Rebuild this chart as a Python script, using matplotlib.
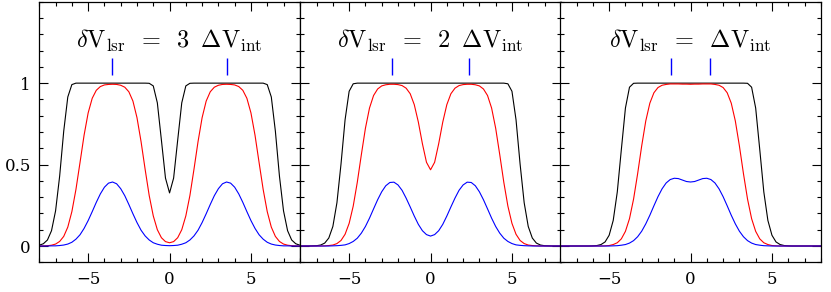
import matplotlib
matplotlib.use('Agg')
import matplotlib.pyplot as plt
from matplotlib.ticker import MultipleLocator
import numpy as np

plt.rcParams['mathtext.fontset'] = 'cm'

# velocity grid (-8 .. 8, step 0.25)
x = np.linspace(-8, 8, 65)

# panel 1: dV_lsr = 3 dV_int
black1 = [0.005, 0.014, 0.037, 0.094, 0.216, 0.429, 0.705, 0.915, 0.991,
          1.000, 1.000, 1.000, 1.000, 1.000, 1.000, 1.000, 1.000, 1.000,
          1.000, 1.000, 1.000, 1.000, 1.000, 1.000, 1.000, 1.000, 1.000,
          0.999, 0.983, 0.879, 0.650, 0.417, 0.326, 0.417, 0.650, 0.879, 0.983, 0.999,
          1.000, 1.000, 1.000, 1.000, 1.000, 1.000, 1.000, 1.000, 1.000,
          1.000, 1.000, 1.000, 1.000, 1.000, 1.000, 1.000, 1.000, 1.000,
          0.991, 0.915, 0.705, 0.429, 0.216, 0.094, 0.037, 0.014, 0.005]
red1 = [0.000, 0.001, 0.002, 0.005, 0.012, 0.028, 0.059, 0.116, 0.211, 0.347, 0.512,
        0.680, 0.817, 0.907, 0.956, 0.979, 0.989, 0.992, 0.993, 0.992, 0.987, 0.975,
        0.947, 0.890, 0.788, 0.641, 0.471, 0.310, 0.185, 0.100, 0.051, 0.027, 0.020,
        0.027, 0.051, 0.100, 0.185, 0.310, 0.471, 0.641, 0.788, 0.890, 0.947, 0.975,
        0.987, 0.992, 0.993, 0.992, 0.989, 0.979, 0.956, 0.907, 0.817, 0.680, 0.512,
        0.347, 0.211, 0.116, 0.059, 0.028, 0.012, 0.005, 0.002, 0.001, 0.000]
blue1 = [0.000, 0.000, 0.000, 0.001, 0.001, 0.003, 0.006, 0.012, 0.023, 0.042, 0.069,
         0.108, 0.156, 0.211, 0.268, 0.320, 0.361, 0.386, 0.393, 0.382, 0.352, 0.309,
         0.255, 0.198, 0.144, 0.097, 0.062, 0.037, 0.020, 0.011, 0.005, 0.003, 0.002,
         0.003, 0.005, 0.011, 0.020, 0.037, 0.062, 0.097, 0.144, 0.198, 0.255, 0.309,
         0.352, 0.382, 0.393, 0.386, 0.361, 0.320, 0.268, 0.211, 0.156, 0.108, 0.069,
         0.042, 0.023, 0.012, 0.006, 0.003, 0.001, 0.001, 0.000, 0.000, 0.000]

# panel 2: dV_lsr = 2 dV_int
black2 = [0.000, 0.000, 0.000, 0.001, 0.002, 0.006, 0.018, 0.049, 0.120, 0.266, 0.503,
          0.775, 0.950, 0.996,
          1.000, 1.000, 1.000, 1.000, 1.000, 1.000, 1.000, 1.000, 1.000, 1.000,
          1.000, 1.000, 1.000, 1.000, 1.000, 1.000, 1.000, 1.000, 1.000, 1.000,
          1.000, 1.000, 1.000, 1.000, 1.000, 1.000, 1.000, 1.000, 1.000, 1.000,
          1.000, 1.000, 1.000, 1.000, 1.000, 1.000, 1.000,
          0.996, 0.950, 0.775, 0.503, 0.266, 0.120, 0.049, 0.018, 0.006, 0.002, 0.001,
          0.000, 0.000, 0.000]
red2 = [0.000, 0.000, 0.000, 0.000, 0.000, 0.000, 0.001, 0.003, 0.006, 0.015, 0.034,
        0.072, 0.139, 0.245, 0.391, 0.561, 0.723, 0.847, 0.924, 0.964, 0.983, 0.990,
        0.993, 0.993, 0.991, 0.985, 0.969, 0.935, 0.868, 0.761, 0.628, 0.514, 0.468,
        0.514, 0.628, 0.761, 0.868, 0.935, 0.969, 0.985, 0.991, 0.993, 0.993, 0.990,
        0.983, 0.964, 0.924, 0.847, 0.723, 0.561, 0.391, 0.245, 0.139, 0.072, 0.034,
        0.015, 0.006, 0.003, 0.001, 0.000, 0.000, 0.000, 0.000, 0.000, 0.000]
blue2 = [0.000, 0.000, 0.000, 0.000, 0.000, 0.000, 0.000, 0.000, 0.001, 0.002, 0.004,
         0.007, 0.015, 0.028, 0.048, 0.079, 0.120, 0.171, 0.228, 0.284, 0.333, 0.370,
         0.390, 0.392, 0.375, 0.342, 0.294, 0.240, 0.184, 0.133, 0.094, 0.070, 0.061,
         0.070, 0.094, 0.133, 0.184, 0.240, 0.294, 0.342, 0.375, 0.392, 0.390, 0.370,
         0.333, 0.284, 0.228, 0.171, 0.120, 0.079, 0.048, 0.028, 0.015, 0.007, 0.004,
         0.002, 0.001, 0.000, 0.000, 0.000, 0.000, 0.000, 0.000, 0.000, 0.000]

# panel 3: dV_lsr = dV_int
black3 = [0.000, 0.000, 0.000, 0.000, 0.000, 0.000, 0.000, 0.000, 0.001, 0.003, 0.009,
          0.025, 0.066, 0.157, 0.332, 0.593, 0.847, 0.975, 0.999,
          1.000, 1.000, 1.000, 1.000, 1.000, 1.000, 1.000, 1.000, 1.000,
          1.000, 1.000, 1.000, 1.000, 1.000, 1.000, 1.000, 1.000, 1.000,
          1.000, 1.000, 1.000, 1.000, 1.000, 1.000, 1.000, 1.000, 1.000,
          0.999, 0.975, 0.847, 0.593, 0.332, 0.157, 0.066, 0.025, 0.009, 0.003, 0.001,
          0.000, 0.000, 0.000, 0.000, 0.000, 0.000, 0.000, 0.000]
red3 = [0.000, 0.000, 0.000, 0.000, 0.000, 0.000, 0.000, 0.000, 0.000, 0.000, 0.000,
        0.001, 0.003, 0.009, 0.020, 0.044, 0.090, 0.168, 0.288, 0.444, 0.615, 0.768,
        0.877, 0.941, 0.973, 0.987, 0.992, 0.995, 0.995, 0.995, 0.994, 0.994, 0.993,
        0.994, 0.994, 0.995, 0.995, 0.995, 0.992, 0.987, 0.973, 0.941, 0.877, 0.768,
        0.615, 0.444, 0.288, 0.168, 0.090, 0.044, 0.020, 0.009, 0.003, 0.001, 0.000,
        0.000, 0.000, 0.000, 0.000, 0.000, 0.000, 0.000, 0.000, 0.000, 0.000]
blue3 = [0.000, 0.000, 0.000, 0.000, 0.000, 0.000, 0.000, 0.000, 0.000, 0.000, 0.000,
         0.000, 0.000, 0.001, 0.002, 0.005, 0.009, 0.018, 0.033, 0.057, 0.091, 0.136,
         0.189, 0.247, 0.303, 0.351, 0.387, 0.408, 0.416, 0.414, 0.405, 0.396, 0.393,
         0.396, 0.405, 0.414, 0.416, 0.408, 0.387, 0.351, 0.303, 0.247, 0.189, 0.136,
         0.091, 0.057, 0.033, 0.018, 0.009, 0.005, 0.002, 0.001, 0.000, 0.000, 0.000,
         0.000, 0.000, 0.000, 0.000, 0.000, 0.000, 0.000, 0.000, 0.000, 0.000]

# component centres marked above each panel
marks1 = [-3.53, 3.53]
marks2 = [-2.35, 2.35]
marks3 = [-1.18, 1.18]

titles = [r'$\delta\mathrm{V}_{\mathrm{lsr}}\;\;=\;\;3\;\;\Delta\mathrm{V}_{\mathrm{int}}$',
          r'$\delta\mathrm{V}_{\mathrm{lsr}}\;\;=\;\;2\;\;\Delta\mathrm{V}_{\mathrm{int}}$',
          r'$\delta\mathrm{V}_{\mathrm{lsr}}\;\;=\;\;\Delta\mathrm{V}_{\mathrm{int}}$']

panels = [(black1, red1, blue1, marks1),
          (black2, red2, blue2, marks2),
          (black3, red3, blue3, marks3)]

W, H = 831, 292
fig = plt.figure(figsize=(W / 100, H / 100), dpi=100)
lefts = [39.3, 300.3, 560.3]
pw, ph = 260.5, 260.6
bottom = 262.3

for i, (blk, red, blu, marks) in enumerate(panels):
    ax = fig.add_axes([lefts[i] / W, (H - bottom) / H, pw / W, ph / H])
    ax.plot(x, blk, color='black', lw=0.8)
    ax.plot(x, red, color='red', lw=0.8)
    ax.plot(x, blu, color='blue', lw=0.8)
    ax.vlines(marks, 1.05, 1.155, color='blue', lw=1.0)
    ax.text(0, 1.217, titles[i], ha='center', va='baseline', fontsize=17.5)

    ax.set_xlim(-8, 8)
    ax.set_ylim(-0.1, 1.5)
    ax.set_xticks([-5, 0, 5])
    ax.set_xticklabels(['\u22125', '0', '5'], family='DejaVu Serif', fontsize=12)
    ax.xaxis.set_minor_locator(MultipleLocator(1))
    ax.set_yticks([0, 0.5, 1])
    ax.yaxis.set_minor_locator(MultipleLocator(0.1))
    if i == 0:
        ax.set_yticklabels(['0', '0.5', '1'], family='DejaVu Serif', fontsize=12)
    else:
        ax.set_yticklabels([])
    ax.tick_params(which='both', direction='in', top=True, right=True, width=0.8)
    ax.tick_params(which='major', length=6.5, pad=6)
    ax.tick_params(which='minor', length=3.2)
    for s in ax.spines.values():
        s.set_linewidth(0.9)

fig.savefig('out.png', dpi=100)
